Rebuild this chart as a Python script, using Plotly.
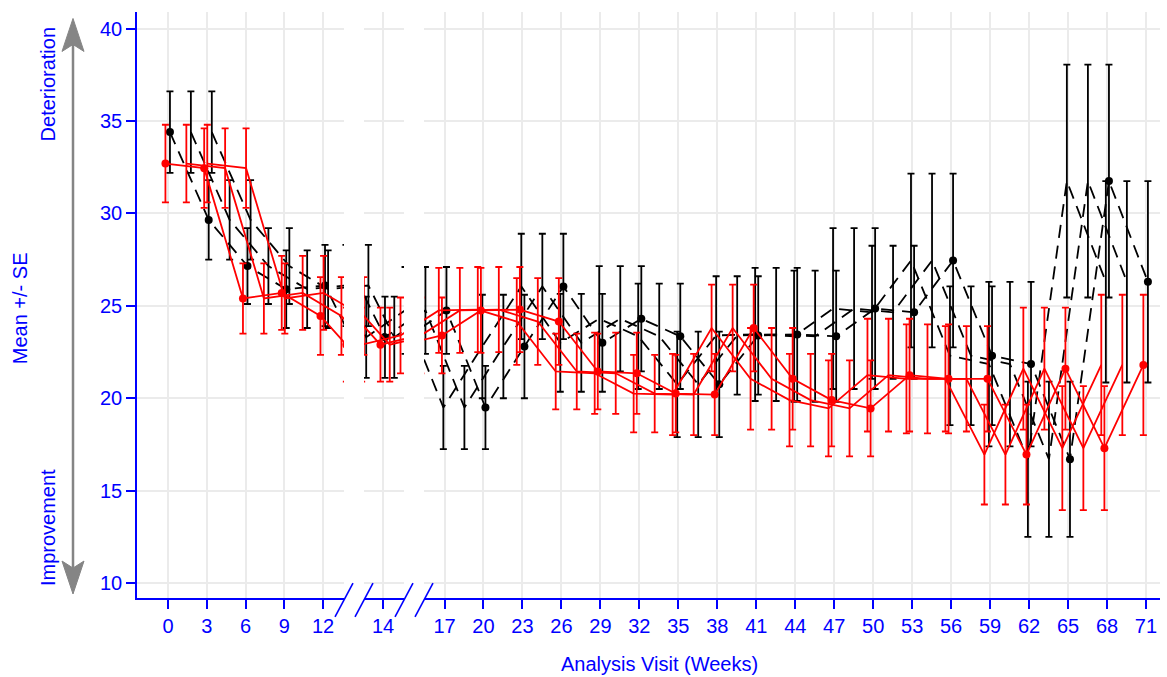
import plotly.graph_objects as go

# ---------------- data ----------------
weeks = [0, 3, 6, 9, 12, 14, 17, 20, 23, 26, 29, 32, 35, 38, 41, 44, 47, 50, 53, 56, 59, 62, 65, 68, 71]

black_mean = [34.4, 29.65, 27.15, 25.9, 26.1, 23.3, 24.75, 19.5, 22.8, 26.05, 23.0, 24.3, 23.35, 20.75,
              23.4, 23.45, 23.35, 24.85, 24.65, 27.45, 22.3, 21.85, 16.7, 31.75, 26.3]
black_se = [2.2, 2.15, 2.05, 2.1, 2.2, 2.2, 2.35, 2.25, 2.8, 2.85, 2.65, 2.85, 2.85, 2.85,
            3.2, 3.6, 3.55, 4.35, 3.6, 4.7, 3.75, 4.45, 4.2, 6.3, 5.45]

red_mean = [32.7, 32.45, 25.4, 25.7, 24.45, 22.9, 23.4, 24.75, 24.8, 24.15, 21.45, 21.35, 20.25, 20.2,
            23.8, 21.05, 19.9, 19.45, 21.25, 21.05, 21.05, 16.95, 21.6, 17.3, 21.8]
red_se = [2.1, 2.15, 1.9, 2.0, 2.1, 2.0, 2.05, 2.3, 2.3, 2.35, 2.05, 2.2, 2.1, 2.2,
          2.35, 2.75, 2.5, 2.6, 3.05, 2.95, 2.85, 2.7, 3.3, 3.35, 3.8]

ticks_p1 = [0, 3, 6, 9, 12]
ticks_p2 = [14]
ticks_p3 = list(range(17, 72, 3))

# ---------------- layout geometry ----------------
W, H = 1167, 677
L, R, T, B = 137, 1160, 11.5, 598
PW, PH = R - L, B - T

def px(x):
    return (x - L) / PW

def py(y):
    return (B - y) / PH

BLUE = "#0000ff"
GRID = "#ebebeb"
FONT = "Liberation Sans, Arial, sans-serif"

panels = [
    dict(xa="x", ya="y", dom=[px(137), px(344)], rng=[-2.40, 13.62], ticks=ticks_p1,
         offs=[0, 1.62, 3.24]),
    dict(xa="x2", ya="y2", dom=[px(364), px(404)], rng=[12.53, 15.62], ticks=ticks_p2,
         offs=[0, -1.45, 0.72]),
    dict(xa="x3", ya="y3", dom=[px(424), px(1160)], rng=[15.42, 72.08], ticks=ticks_p3,
         offs=[0, -1.62, -3.24]),
]

series = [
    dict(mean=black_mean, se=black_se, color="black", dash="13px,8px", dodge=0.15),
    dict(mean=red_mean, se=red_se, color="#ff0000", dash="solid", dodge=-0.2),
]

fig = go.Figure()
for p in panels:
    for s in series:
        for k, off in enumerate(p["offs"]):
            fig.add_trace(go.Scatter(
                x=[w + s["dodge"] + off for w in weeks],
                y=s["mean"],
                xaxis=p["xa"], yaxis=p["ya"],
                mode="lines+markers" if k == 0 else "lines",
                line=dict(color=s["color"], width=1.8, dash=s["dash"]),
                marker=dict(color=s["color"], size=8),
                error_y=dict(type="data", array=s["se"], visible=True,
                             color=s["color"], thickness=1.8, width=3.5),
                showlegend=False, hoverinfo="skip",
            ))

layout = dict(
    width=W, height=H,
    margin=dict(l=L, r=W - R, t=T, b=H - B, pad=0),
    paper_bgcolor="white", plot_bgcolor="white",
    font=dict(family=FONT, size=20, color=BLUE),
    showlegend=False,
)

for i, p in enumerate(panels):
    xname = "xaxis" if i == 0 else f"xaxis{i+1}"
    yname = "yaxis" if i == 0 else f"yaxis{i+1}"
    layout[xname] = dict(
        domain=p["dom"], range=p["rng"], anchor=p["ya"],
        tickmode="array", tickvals=p["ticks"], ticktext=[str(t) for t in p["ticks"]],
        showline=True, linecolor=BLUE, linewidth=1.6,
        ticks="outside", ticklen=9, tickwidth=1.5, tickcolor=BLUE,
        tickfont=dict(family=FONT, size=20, color=BLUE),
        showgrid=True, gridcolor=GRID, gridwidth=1.6, zeroline=False,
    )
    ydict = dict(
        domain=[0, 1], range=[9.19, 40.9], anchor=p["xa"],
        tickmode="array", tickvals=[10, 15, 20, 25, 30, 35, 40],
        showgrid=True, gridcolor=GRID, gridwidth=1.6, zeroline=False,
    )
    if i == 0:
        ydict.update(showline=True, linecolor=BLUE, linewidth=1.6,
                     ticks="outside", ticklen=9, tickwidth=1.5, tickcolor=BLUE,
                     tickfont=dict(family=FONT, size=20, color=BLUE))
    else:
        ydict.update(matches="y", showline=False, ticks="", showticklabels=False)
    layout[yname] = ydict

fig.update_layout(**layout)

# ---------------- axis break marks ----------------
shapes = []
for x0 in [335, 355, 395, 415]:
    shapes.append(dict(type="line", xref="paper", yref="paper",
                       x0=px(x0), y0=py(617), x1=px(x0 + 18), y1=py(583),
                       line=dict(color=BLUE, width=1.6)))

# ---------------- gray double arrow ----------------
GRAY = "#858585"
ax = 73
shapes.append(dict(type="line", xref="paper", yref="paper",
                   x0=px(ax), y0=py(40), x1=px(ax), y1=py(570),
                   line=dict(color=GRAY, width=2.5)))

def tri(pts):
    d = "M " + " L ".join(f"{px(a)},{py(b)}" for a, b in pts) + " Z"
    return dict(type="path", xref="paper", yref="paper", path=d,
                fillcolor=GRAY, line=dict(color=GRAY, width=1))

shapes.append(tri([(ax, 18), (ax - 11, 51), (ax, 44), (ax + 11, 51)]))
shapes.append(tri([(ax, 594), (ax - 11, 561), (ax, 568), (ax + 11, 561)]))
fig.update_layout(shapes=shapes)

# ---------------- texts ----------------
def ann(text, x, y, angle=0):
    return dict(text=text, xref="paper", yref="paper", x=px(x), y=py(y),
                xanchor="center", yanchor="middle", showarrow=False, textangle=angle,
                font=dict(family=FONT, size=20, color=BLUE))

fig.update_layout(annotations=[
    ann("Analysis Visit (Weeks)", 659, 664),
    ann("Mean +/- SE", 20, 308, -90),
    ann("Deterioration", 48, 84, -90),
    ann("Improvement", 48, 528, -90),
])

fig.write_html("out.html",
               config={"displayModeBar": False},
               post_script="document.body.style.margin='0';document.body.style.overflow='hidden';")
